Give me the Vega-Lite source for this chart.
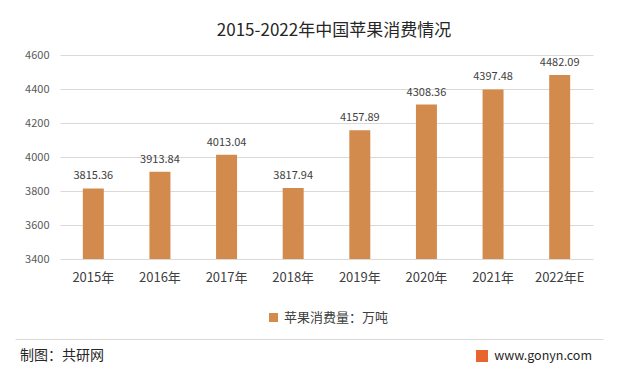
{
  "$schema": "https://vega.github.io/schema/vega-lite/v6.json",
  "background": "white",
  "padding": {"left": 20, "right": 9, "top": 22, "bottom": 0},
  "title": {"text": "2015-2022年中国苹果消费情况", "anchor": "middle", "fontSize": 17, "fontWeight": "normal", "font": "Noto Sans CJK SC", "color": "#262626", "offset": 9},
  "spacing": 14,
  "resolve": {"legend": {"color": "independent"}},
  "vconcat": [
    {
      "width": 533,
      "height": 204,
      "data": {"values": [
        {"year": "2015年", "v": 3815.36},
        {"year": "2016年", "v": 3913.84},
        {"year": "2017年", "v": 4013.04},
        {"year": "2018年", "v": 3817.94},
        {"year": "2019年", "v": 4157.89},
        {"year": "2020年", "v": 4308.36},
        {"year": "2021年", "v": 4397.48},
        {"year": "2022年E", "v": 4482.09}
      ]},
      "encoding": {
        "x": {"field": "year", "type": "nominal", "sort": null,
          "scale": {"paddingInner": 0.685, "paddingOuter": 0.3425},
          "axis": {"title": null, "labelAngle": 0, "domain": false, "ticks": false, "labelPadding": 12, "labelFontSize": 13, "labelColor": "#404040", "labelFont": "Noto Sans CJK SC"}},
        "y": {"field": "v", "type": "quantitative",
          "scale": {"domain": [3400, 4600], "nice": false, "zero": false},
          "axis": {"title": null, "values": [3400, 3600, 3800, 4000, 4200, 4400, 4600], "format": "d", "domain": false, "ticks": false, "labelPadding": 11, "labelFontSize": 11, "labelColor": "#595959", "labelFont": "Noto Sans CJK SC", "gridColor": "#d9d9d9"}}
      },
      "layer": [
        {
          "mark": {"type": "bar", "clip": true},
          "encoding": {
            "color": {"datum": "苹果消费量：万吨", "type": "nominal",
              "scale": {"range": ["#D38B4D"]},
              "legend": {"title": null, "orient": "none", "legendX": 207, "legendY": 256, "direction": "horizontal", "symbolType": "square", "symbolSize": 81, "symbolStrokeWidth": 0, "labelFontSize": 13, "labelColor": "#404040", "labelFont": "Noto Sans CJK SC"}}
          }
        },
        {
          "mark": {"type": "text", "dy": -12, "fontSize": 11, "color": "#404040", "font": "Noto Sans CJK SC"},
          "encoding": {"text": {"field": "v", "type": "quantitative", "format": ".2f"}}
        }
      ]
    },
    {
      "width": 533,
      "height": 34,
      "data": {"values": [
        {"item": "制图：共研网", "pos": "L"},
        {"item": "www.gonyn.com", "pos": "R"}
      ]},
      "encoding": {
        "x": {"field": "pos", "type": "nominal",
          "scale": {"type": "point", "domain": ["L", "R"], "range": [-45, 543], "padding": 0},
          "axis": {"orient": "top", "title": null, "labels": false, "ticks": false, "grid": false, "domainColor": "#d9d9d9"}}
      },
      "layer": [
        {
          "transform": [{"filter": "datum.pos === 'L'"}],
          "mark": {"type": "text", "align": "left", "dx": 5, "fontSize": 14, "color": "#262626", "font": "Noto Sans CJK SC"},
          "encoding": {"text": {"field": "item", "type": "nominal"}}
        },
        {
          "transform": [{"filter": "datum.pos === 'R'"}],
          "mark": {"type": "text", "align": "right", "dx": -11, "fontSize": 12.5, "color": "#262626", "font": "Noto Sans CJK SC"},
          "encoding": {"text": {"field": "item", "type": "nominal"}}
        },
        {
          "transform": [{"filter": "datum.pos === 'R'"}],
          "mark": {"type": "point", "shape": "square", "filled": true, "size": 144, "color": "#E8652F", "opacity": 1, "xOffset": -121},
          "encoding": {}
        }
      ]
    }
  ],
  "config": {"view": {"stroke": null}, "font": "Noto Sans CJK SC"}
}
